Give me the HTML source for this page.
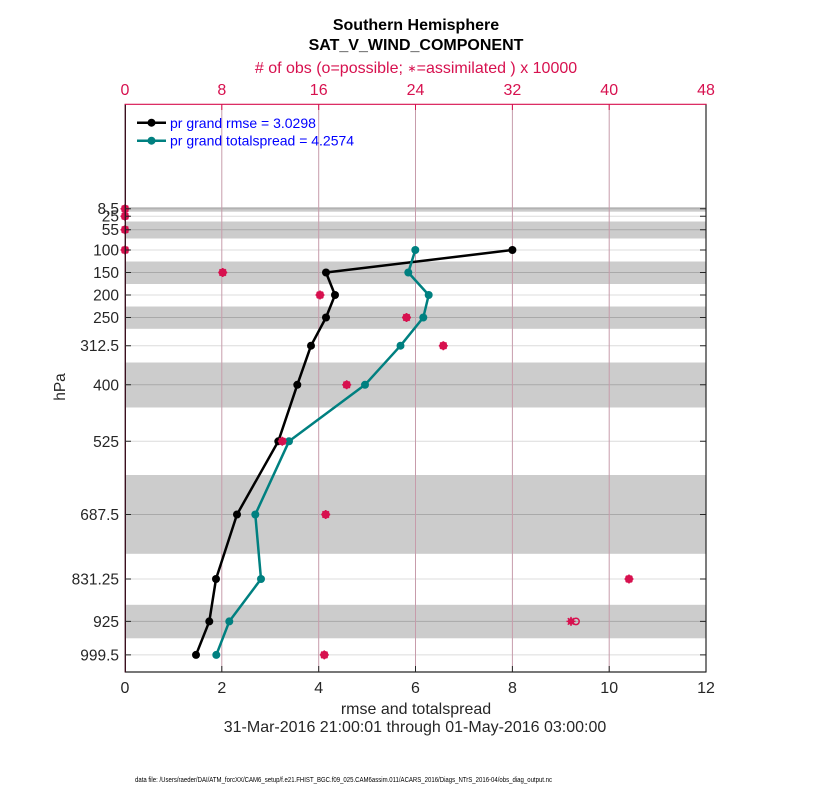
<!DOCTYPE html>
<html><head><meta charset="utf-8"><style>
html,body{margin:0;padding:0;background:#fff;}
svg{display:block;}
text{font-family:"Liberation Sans",Arial,sans-serif;}
</style></head><body>
<svg width="830" height="800" viewBox="0 0 830 800" xmlns="http://www.w3.org/2000/svg">
<rect width="830" height="800" fill="#fff"/>
<!-- bands -->
<g fill="#cccccc">
<rect x="125" y="207" width="581" height="4.7"/>
<rect x="125" y="221.5" width="581" height="17"/>
<rect x="125" y="261.5" width="581" height="22.5"/>
<rect x="125" y="306.5" width="581" height="22.3"/>
<rect x="125" y="362.5" width="581" height="45"/>
<rect x="125" y="475" width="581" height="78.8"/>
<rect x="125" y="604.8" width="581" height="33.5"/>
</g>
<!-- horizontal grid -->
<g stroke-width="1">
<line x1="125" x2="706" y1="208.8" y2="208.8" stroke="#a9a9a9"/>
<line x1="125" x2="706" y1="216.2" y2="216.2" stroke="#dcdcdc"/>
<line x1="125" x2="706" y1="229.7" y2="229.7" stroke="#a9a9a9"/>
<line x1="125" x2="706" y1="250" y2="250" stroke="#dcdcdc"/>
<line x1="125" x2="706" y1="272.5" y2="272.5" stroke="#a9a9a9"/>
<line x1="125" x2="706" y1="295" y2="295" stroke="#dcdcdc"/>
<line x1="125" x2="706" y1="317.5" y2="317.5" stroke="#a9a9a9"/>
<line x1="125" x2="706" y1="345.7" y2="345.7" stroke="#dcdcdc"/>
<line x1="125" x2="706" y1="384.8" y2="384.8" stroke="#a9a9a9"/>
<line x1="125" x2="706" y1="441.3" y2="441.3" stroke="#dcdcdc"/>
<line x1="125" x2="706" y1="514.5" y2="514.5" stroke="#a9a9a9"/>
<line x1="125" x2="706" y1="579" y2="579" stroke="#dcdcdc"/>
<line x1="125" x2="706" y1="621.4" y2="621.4" stroke="#a9a9a9"/>
<line x1="125" x2="706" y1="654.9" y2="654.9" stroke="#dcdcdc"/>
</g>
<!-- vertical grid -->
<g stroke="#c79cab" stroke-width="1">
<line x1="221.8" x2="221.8" y1="104" y2="672"/>
<line x1="318.7" x2="318.7" y1="104" y2="672"/>
<line x1="415.5" x2="415.5" y1="104" y2="672"/>
<line x1="512.4" x2="512.4" y1="104" y2="672"/>
<line x1="609.2" x2="609.2" y1="104" y2="672"/>
</g>
<g stroke="#d7114f" stroke-width="1.5" fill="#d7114f">
<circle cx="125" cy="208.8" r="3.3"/><path d="M120.5 208.8h9M125 204.3v9M121.8 205.6l6.4 6.4M128.2 205.6l-6.4 6.4"/>
<circle cx="125" cy="216.2" r="3.3"/><path d="M120.5 216.2h9M125 211.7v9M121.8 213l6.4 6.4M128.2 213l-6.4 6.4"/>
<circle cx="125" cy="229.7" r="3.3"/><path d="M120.5 229.7h9M125 225.2v9M121.8 226.5l6.4 6.4M128.2 226.5l-6.4 6.4"/>
<circle cx="125" cy="250" r="3.3"/><path d="M120.5 250h9M125 245.5v9M121.8 246.8l6.4 6.4M128.2 246.8l-6.4 6.4"/>
<circle cx="222.7" cy="272.5" r="3.3"/><path d="M218.2 272.5h9M222.7 268v9M219.5 269.3l6.4 6.4M225.9 269.3l-6.4 6.4"/>
<circle cx="320" cy="295" r="3.3"/><path d="M315.5 295h9M320 290.5v9M316.8 291.8l6.4 6.4M323.2 291.8l-6.4 6.4"/>
<circle cx="406.5" cy="317.5" r="3.3"/><path d="M402 317.5h9M406.5 313v9M403.3 314.3l6.4 6.4M409.7 314.3l-6.4 6.4"/>
<circle cx="443.3" cy="345.7" r="3.3"/><path d="M438.8 345.7h9M443.3 341.2v9M440.1 342.5l6.4 6.4M446.5 342.5l-6.4 6.4"/>
<circle cx="346.7" cy="384.8" r="3.3"/><path d="M342.2 384.8h9M346.7 380.3v9M343.5 381.6l6.4 6.4M349.9 381.6l-6.4 6.4"/>
<circle cx="325.7" cy="514.5" r="3.3"/><path d="M321.2 514.5h9M325.7 510v9M322.5 511.3l6.4 6.4M328.9 511.3l-6.4 6.4"/>
<circle cx="629" cy="579" r="3.3"/><path d="M624.5 579h9M629 574.5v9M625.8 575.8l6.4 6.4M632.2 575.8l-6.4 6.4"/>
<path d="M566.5 621.4h9M571 616.9v9M567.8 618.2l6.4 6.4M574.2 618.2l-6.4 6.4"/><circle cx="571" cy="621.4" r="2.5"/>
<circle cx="576" cy="621.4" r="3.2" fill="none"/>
<circle cx="324.3" cy="654.9" r="3.3"/><path d="M319.8 654.9h9M324.3 650.4v9M321.1 651.7l6.4 6.4M327.5 651.7l-6.4 6.4"/>
</g>
<!-- rmse -->
<polyline fill="none" stroke="#000" stroke-width="2.5" stroke-linejoin="round" points="512.4,250 326,272.5 335,295 326,317.5 311,345.7 297.3,384.8 278.3,441.3 237,514.5 216,579 209.3,621.4 196,654.9"/>
<g fill="#000">
<circle cx="512.4" cy="250" r="4"/><circle cx="326" cy="272.5" r="4"/><circle cx="335" cy="295" r="4"/><circle cx="326" cy="317.5" r="4"/><circle cx="311" cy="345.7" r="4"/><circle cx="297.3" cy="384.8" r="4"/><circle cx="278.3" cy="441.3" r="4"/><circle cx="237" cy="514.5" r="4"/><circle cx="216" cy="579" r="4"/><circle cx="209.3" cy="621.4" r="4"/><circle cx="196" cy="654.9" r="4"/>
</g>
<!-- spread -->
<polyline fill="none" stroke="#008080" stroke-width="2.5" stroke-linejoin="round" points="415.3,250 408.3,272.5 428.7,295 423.3,317.5 400.5,345.7 365,384.8 289,441.3 255.3,514.5 261,579 229.3,621.4 216.3,654.9"/>
<g fill="#008080">
<circle cx="415.3" cy="250" r="4"/><circle cx="408.3" cy="272.5" r="4"/><circle cx="428.7" cy="295" r="4"/><circle cx="423.3" cy="317.5" r="4"/><circle cx="400.5" cy="345.7" r="4"/><circle cx="365" cy="384.8" r="4"/><circle cx="289" cy="441.3" r="4"/><circle cx="255.3" cy="514.5" r="4"/><circle cx="261" cy="579" r="4"/><circle cx="229.3" cy="621.4" r="4"/><circle cx="216.3" cy="654.9" r="4"/>
</g>
<g stroke="#d7114f" stroke-width="1.5" fill="#d7114f">
<circle cx="282.3" cy="441.3" r="3.3"/><path d="M277.8 441.3h9M282.3 436.8v9M279.1 438.1l6.4 6.4M285.5 438.1l-6.4 6.4"/>
</g>
<!-- axes -->
<line x1="125" y1="672" x2="706.5" y2="672" stroke="#262626" stroke-width="1.2"/>
<line x1="706" y1="104" x2="706" y2="672" stroke="#262626" stroke-width="1.2"/>
<line x1="125.3" y1="104" x2="125.3" y2="672.5" stroke="#3a0f1e" stroke-width="1.4"/>
<line x1="124.6" y1="104.3" x2="706.6" y2="104.3" stroke="#d7114f" stroke-width="1.2"/>
<g stroke="#262626" stroke-width="1">
<line x1="221.8" x2="221.8" y1="672" y2="666"/><line x1="318.7" x2="318.7" y1="672" y2="666"/><line x1="415.5" x2="415.5" y1="672" y2="666"/><line x1="512.4" x2="512.4" y1="672" y2="666"/><line x1="609.2" x2="609.2" y1="672" y2="666"/>
</g>
<g stroke="#d7114f" stroke-width="1">
<line x1="221.8" x2="221.8" y1="104" y2="110"/><line x1="318.7" x2="318.7" y1="104" y2="110"/><line x1="415.5" x2="415.5" y1="104" y2="110"/><line x1="512.4" x2="512.4" y1="104" y2="110"/><line x1="609.2" x2="609.2" y1="104" y2="110"/>
</g>
<g stroke="#262626" stroke-width="1">
<path d="M125 208.8h6M125 216.2h6M125 229.7h6M125 250h6M125 272.5h6M125 295h6M125 317.5h6M125 345.7h6M125 384.8h6M125 441.3h6M125 514.5h6M125 579h6M125 621.4h6M125 654.9h6"/>
<path d="M706 208.8h-6M706 216.2h-6M706 229.7h-6M706 250h-6M706 272.5h-6M706 295h-6M706 317.5h-6M706 345.7h-6M706 384.8h-6M706 441.3h-6M706 514.5h-6M706 579h-6M706 621.4h-6M706 654.9h-6"/>
</g>
<g font-size="15.5" fill="#262626" text-anchor="end">
<text x="119" y="214">8.5</text>
<text x="119" y="221.7">25</text>
<text x="119" y="235.2">55</text>
<text x="119" y="255.5">100</text>
<text x="119" y="278">150</text>
<text x="119" y="300.5">200</text>
<text x="119" y="323">250</text>
<text x="119" y="351.2">312.5</text>
<text x="119" y="390.3">400</text>
<text x="119" y="446.8">525</text>
<text x="119" y="520">687.5</text>
<text x="119" y="584.5">831.25</text>
<text x="119" y="626.9">925</text>
<text x="119" y="660.4">999.5</text>
</g>
<text transform="translate(65,387) rotate(-90)" font-size="15.5" fill="#262626" text-anchor="middle">hPa</text>
<g font-size="16" fill="#262626" text-anchor="middle">
<text x="125" y="693">0</text><text x="221.8" y="693">2</text><text x="318.7" y="693">4</text><text x="415.5" y="693">6</text><text x="512.4" y="693">8</text><text x="609.2" y="693">10</text><text x="706" y="693">12</text>
<text x="416" y="714">rmse and totalspread</text>
<text x="415" y="732">31-Mar-2016 21:00:01 through 01-May-2016 03:00:00</text>
</g>
<g font-size="16" fill="#d7114f" text-anchor="middle">
<text x="125" y="95">0</text><text x="221.8" y="95">8</text><text x="318.7" y="95">16</text><text x="415.5" y="95">24</text><text x="512.4" y="95">32</text><text x="609.2" y="95">40</text><text x="706" y="95">48</text>
<text x="416" y="73"># of obs (o=possible; <tspan font-size="11" dy="-1">∗</tspan><tspan dy="1">=assimilated ) x 10000</tspan></text>
</g>
<g font-size="16" font-weight="bold" fill="#000" text-anchor="middle">
<text x="416" y="30">Southern Hemisphere</text>
<text x="416" y="50">SAT_V_WIND_COMPONENT</text>
</g>
<line x1="137" y1="122.7" x2="166" y2="122.7" stroke="#000" stroke-width="2.5"/>
<circle cx="151.5" cy="122.7" r="4" fill="#000"/>
<line x1="137" y1="140.7" x2="166" y2="140.7" stroke="#008080" stroke-width="2.5"/>
<circle cx="151.5" cy="140.7" r="4" fill="#008080"/>
<g font-size="14" fill="#0000ff">
<text x="170" y="128">pr grand rmse = 3.0298</text>
<text x="170" y="145.5">pr grand totalspread = 4.2574</text>
</g>
<text x="135" y="782" font-size="7" fill="#000" textLength="417" lengthAdjust="spacingAndGlyphs">data file: /Users/raeder/DAI/ATM_forcXX/CAM6_setup/f.e21.FHIST_BGC.f09_025.CAM6assim.011/ACARS_2016/Diags_NTrS_2016-04/obs_diag_output.nc</text>
</svg>
</body></html>
